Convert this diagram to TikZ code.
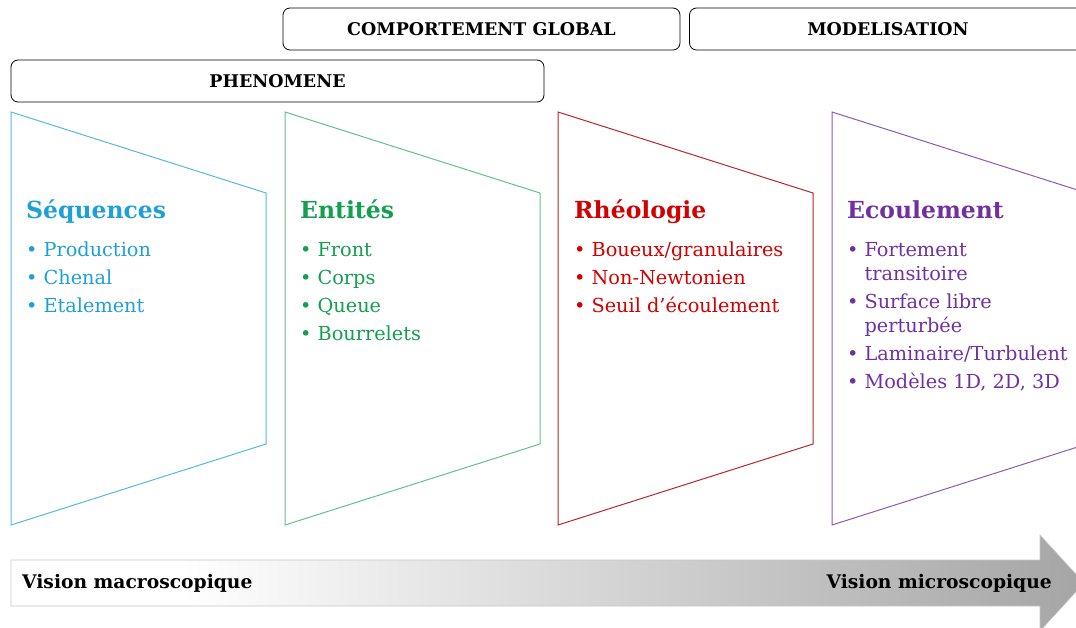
\documentclass[tikz,border=0pt]{standalone}
\usepackage{fontspec}
\setmainfont{DejaVu Serif}
\definecolor{seqblue}{RGB}{30,160,215}
\definecolor{entgreen}{RGB}{20,158,80}
\definecolor{rheored}{RGB}{210,0,0}
\definecolor{ecoupurple}{RGB}{112,48,160}
\definecolor{arrowgray}{RGB}{165,165,165}
\pgfdeclarehorizontalshading{visionshade}{100bp}{color(0bp)=(white); color(33bp)=(white); color(75bp)=(arrowgray); color(100bp)=(arrowgray)}
\newcommand{\puces}[1]{\begin{tabular}[t]{@{}l@{\hspace{6pt}}l@{}}#1\end{tabular}}

\begin{document}
\begin{tikzpicture}[x=1pt,y=-1pt,
  titlebox/.style={draw,rounded corners=7pt,line width=0.8pt,minimum height=42pt,font=\bfseries\fontsize{17.5}{20}\selectfont},
  trap/.style={line width=1pt},
  heading/.style={anchor=base west,inner sep=0pt,font=\bfseries\fontsize{23.5}{26}\selectfont},
  liste/.style={anchor=base west,inner sep=0pt,font=\fontsize{19.3}{24}\selectfont},
  vision/.style={inner sep=0pt,font=\bfseries\fontsize{18.7}{20}\selectfont}]
\useasboundingbox (0,0) rectangle (1076,627);
\clip (0,0) rectangle (1076,627);

% bandeaux du haut
\node[titlebox,minimum width=397pt] (compbox) at (481.5,29) {COMPORTEMENT GLOBAL};
\node[titlebox,minimum width=397pt] (modelbox) at (888,29) {MODELISATION};
\node[titlebox,minimum width=533pt] (phenobox) at (277.5,81) {PHENOMENE};

% trapezes
\draw[trap,seqblue!75] (11,112) -- (266,193) -- (266,444) -- (11,525) -- cycle;
\draw[trap,entgreen!65] (285,112) -- (540,193) -- (540,444) -- (285,525) -- cycle;
\draw[trap,rheored!70!gray] (558,112) -- (813,193) -- (813,444) -- (558,525) -- cycle;
\draw[trap,ecoupurple!80] (832,112) -- (1087,193) -- (1087,444) -- (832,525) -- cycle;

% titres et listes
\node[heading,text=seqblue] (seqtitle) at (26,218) {Séquences};
\node[liste,text=seqblue] (seqlist) at (26,256)
  {\puces{\textbullet & Production\\[4pt] \textbullet & Chenal\\[4pt] \textbullet & Etalement}};
\node[heading,text=entgreen] (enttitle) at (300,218) {Entités};
\node[liste,text=entgreen] (entlist) at (300,256)
  {\puces{\textbullet & Front\\[4pt] \textbullet & Corps\\[4pt] \textbullet & Queue\\[4pt] \textbullet & Bourrelets}};
\node[heading,text=rheored] (rheotitle) at (574,218) {Rhéologie};
\node[liste,text=rheored] (rheolist) at (574,256)
  {\puces{\textbullet & Boueux/granulaires\\[4pt] \textbullet & Non-Newtonien\\[4pt] \textbullet & Seuil d’écoulement}};
\node[heading,text=ecoupurple] (ecoutitle) at (847,218) {Ecoulement};
\node[liste,text=ecoupurple] (ecoulist) at (847,256)
  {\puces{\textbullet & Fortement\\ & transitoire\\[4pt] \textbullet & Surface libre\\ & perturbée\\[4pt]
   \textbullet & Laminaire/Turbulent\\[4pt] \textbullet & Modèles 1D, 2D, 3D}};

% fleche du bas
\shadedraw[shading=visionshade,draw=gray!45,line width=0.6pt]
  (11,560) -- (1040,560) -- (1040,535) -- (1084,583) -- (1040,631) -- (1040,606) -- (11,606) -- cycle;
\node[vision,anchor=west] (macro) at (22,583) {Vision macroscopique};
\node[vision,anchor=east] (micro) at (1052,583) {Vision microscopique};
\end{tikzpicture}
\end{document}
